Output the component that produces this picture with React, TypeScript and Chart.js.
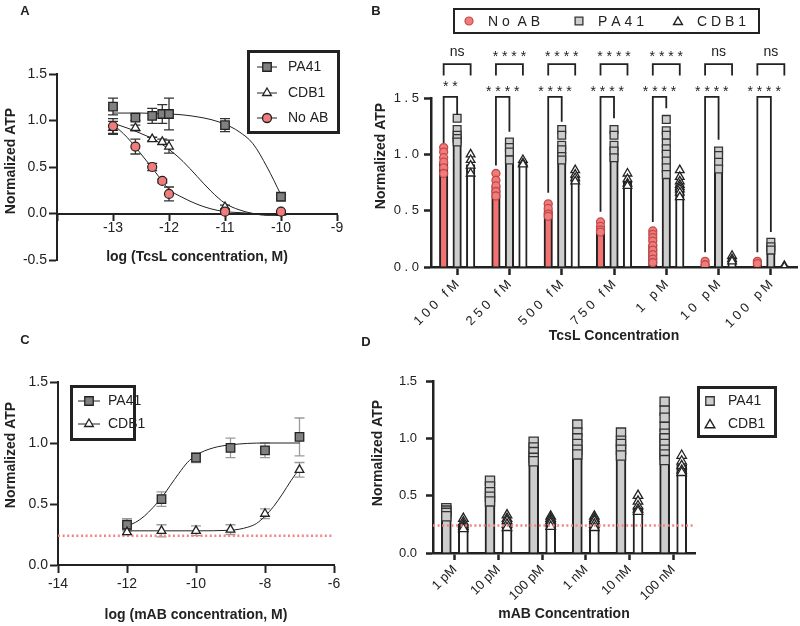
import React, { useEffect, useRef } from "react";
import { Chart, registerables } from "chart.js";

Chart.register(...registerables);

const FONT = "'Liberation Sans', Arial, Helvetica, sans-serif";
const INK = "#222222";
const RED = "#f27b7b";
const RED_BAR = "#f47272";
const DARK_GRAY = "#808080";
const LIGHT_GRAY = "#cdcdcd";
const DOT_RED = "#f28484";

// ---------------- Panel A ----------------
const aLogConc = [-13, -12.6, -12.3, -12.12, -12, -11, -10];
const aPA41 = [1.15, 1.03, 1.05, 1.07, 1.07, 0.95, 0.18];
const aPA41Err = [0.09, 0.03, 0.08, 0.1, 0.17, 0.07, 0.02];
const aCDB1 = [0.92, 0.92, 0.8, 0.77, 0.72, 0.07, 0.01];
const aCDB1Err = [0.07, 0.03, 0.02, 0.03, 0.07, 0.02, 0.01];
const aNoAB = [0.94, 0.72, 0.5, 0.35, 0.21, 0.02, 0.02];
const aNoABErr = [0.08, 0.08, 0.04, 0.02, 0.075, 0.01, 0.01];
const aFitX = [-13, -12.75, -12.5, -12.25, -12, -11.75, -11.5, -11.25, -11, -10.75, -10.5, -10.25, -10];
const aFitPA41 = [1.08, 1.08, 1.08, 1.075, 1.07, 1.06, 1.04, 1.01, 0.96, 0.88, 0.75, 0.5, 0.2];
const aFitCDB1 = [0.97, 0.92, 0.86, 0.79, 0.69, 0.56, 0.4, 0.24, 0.11, 0.04, 0.0, -0.02, -0.02];
const aFitNoAB = [0.96, 0.82, 0.64, 0.45, 0.26, 0.17, 0.1, 0.05, 0.02, 0.01, 0.0, -0.01, -0.01];

// ---------------- Panel B ----------------
const bCategories = ["100 fM", "250 fM", "500 fM", "750 fM", "1 pM", "10 pM", "100 pM"];
const bNoABMean = [0.93, 0.72, 0.5, 0.35, 0.2, 0.03, 0.03];
const bPA41Mean = [1.16, 1.04, 1.05, 1.05, 1.04, 0.95, 0.18];
const bCDB1Mean = [0.91, 0.93, 0.8, 0.76, 0.73, 0.07, 0.01];
const bNoABPoints = [
  [1.06, 1.02, 0.97, 0.93, 0.88, 0.83],
  [0.83, 0.77, 0.72, 0.67, 0.63],
  [0.56, 0.52, 0.47, 0.45],
  [0.4, 0.36, 0.33, 0.31],
  [0.32, 0.29, 0.26, 0.23, 0.19, 0.15, 0.11, 0.07, 0.04],
  [0.05, 0.02],
  [0.05, 0.03],
];
const bPA41Points = [
  [1.32, 1.22, 1.17, 1.14, 1.11],
  [1.11, 1.06, 1.02, 0.95],
  [1.22, 1.17, 1.08, 1.04, 0.98, 0.95],
  [1.22, 1.17, 1.08, 1.03, 0.97],
  [1.31, 1.21, 1.17, 1.1, 1.05, 1.0, 0.94, 0.88, 0.82],
  [1.03, 0.99, 0.93, 0.87],
  [0.22, 0.18, 0.15],
];
const bCDB1Points = [
  [1.0, 0.95, 0.9, 0.83],
  [0.95, 0.92, 0.91],
  [0.86, 0.82, 0.79, 0.76],
  [0.83, 0.78, 0.74, 0.72],
  [0.86, 0.8, 0.76, 0.73, 0.71, 0.69, 0.66, 0.62],
  [0.1, 0.07, 0.05],
  [0.01, 0.0],
];
const bUpperLabels = ["ns", "****", "****", "****", "****", "ns", "ns"];
const bLowerLabels = ["**", "****", "****", "****", "****", "****", "****"];
const bLowerLeftEnd = [1.1, 0.9, 0.66, 0.49, 0.4, 0.13, 0.13];
const bLowerRightEnd = [1.35, 1.2, 1.29, 1.32, 1.41, 1.13, 0.31];
const bLowerTop = 1.51;
const bUpperTop = 1.8;
const bUpperLegEnd = 1.7;

// ---------------- Panel C ----------------
const cLogConc = [-12, -11, -10, -9, -8, -7];
const cPA41 = [0.33, 0.54, 0.88, 0.96, 0.94, 1.05];
const cPA41Err = [0.05, 0.06, 0.04, 0.08, 0.06, 0.155];
const cCDB1 = [0.27, 0.28, 0.28, 0.29, 0.42, 0.78];
const cCDB1Err = [0.02, 0.05, 0.04, 0.04, 0.04, 0.06];
const cFitPA41X = [-12, -11.75, -11.5, -11.25, -11, -10.75, -10.5, -10.25, -10, -9.5, -9, -8, -7];
const cFitPA41 = [0.32, 0.35, 0.4, 0.47, 0.55, 0.65, 0.75, 0.84, 0.9, 0.96, 0.985, 1.0, 1.0];
const cFitCDB1X = [-12, -11, -10, -9, -8.5, -8.25, -8, -7.75, -7.5, -7.25, -7];
const cFitCDB1 = [0.28, 0.28, 0.28, 0.285, 0.31, 0.34, 0.4, 0.48, 0.58, 0.69, 0.79];
const noAbBaseline = 0.24;

// ---------------- Panel D ----------------
const dCategories = ["1 pM", "10 pM", "100 pM", "1 nM", "10 nM", "100 nM"];
const dPA41Mean = [0.35, 0.52, 0.89, 0.95, 0.95, 1.04];
const dCDB1Mean = [0.25, 0.28, 0.28, 0.27, 0.4, 0.77];
const dPA41Points = [
  [0.39, 0.37, 0.35, 0.32],
  [0.63, 0.58, 0.53, 0.49, 0.45],
  [0.97, 0.92, 0.88, 0.83, 0.8],
  [1.12, 1.05, 1.0, 0.95, 0.9, 0.86],
  [1.05, 0.98, 0.95, 0.9, 0.85],
  [1.32, 1.24, 1.18, 1.1, 1.04, 1.0, 0.95, 0.9, 0.86, 0.81],
];
const dCDB1Points = [
  [0.3, 0.27, 0.25, 0.23, 0.21],
  [0.33, 0.3, 0.28, 0.25, 0.22],
  [0.32, 0.3, 0.28, 0.26, 0.23],
  [0.32, 0.3, 0.28, 0.25, 0.22],
  [0.5, 0.45, 0.41, 0.38, 0.36],
  [0.85, 0.8, 0.76, 0.72, 0.7],
];

// ---------------- helpers ----------------
const spaced = (s: string) => s.split("").join(" ");
const fnt = (size: number, bold = false) => `${bold ? "bold " : ""}${size}px ${FONT}`;

function drawText(
  ctx: CanvasRenderingContext2D,
  text: string,
  x: number,
  y: number,
  size: number,
  bold: boolean,
  rotate = 0,
  align: CanvasTextAlign = "center",
  baseline: CanvasTextBaseline = "middle"
) {
  ctx.save();
  ctx.translate(x, y);
  if (rotate) ctx.rotate(rotate);
  ctx.font = fnt(size, bold);
  ctx.fillStyle = INK;
  ctx.textAlign = align;
  ctx.textBaseline = baseline;
  ctx.fillText(text, 0, 0);
  ctx.restore();
}

function drawMarker(
  ctx: CanvasRenderingContext2D,
  style: string,
  x: number,
  y: number,
  r: number,
  fill: string,
  stroke: string,
  lw: number
) {
  ctx.save();
  ctx.beginPath();
  if (style === "rect") {
    const s = r * Math.SQRT1_2;
    ctx.rect(x - s, y - s, 2 * s, 2 * s);
  } else if (style === "triangle") {
    ctx.moveTo(x, y - r);
    ctx.lineTo(x + r * 0.866, y + r * 0.5);
    ctx.lineTo(x - r * 0.866, y + r * 0.5);
    ctx.closePath();
  } else {
    ctx.arc(x, y, r, 0, Math.PI * 2);
  }
  ctx.fillStyle = fill;
  ctx.fill();
  ctx.lineWidth = lw;
  ctx.strokeStyle = stroke;
  ctx.stroke();
  ctx.restore();
}

function drawBox(ctx: CanvasRenderingContext2D, x: number, y: number, w: number, h: number, lw: number) {
  ctx.save();
  ctx.lineWidth = lw;
  ctx.strokeStyle = INK;
  ctx.strokeRect(x + lw / 2, y + lw / 2, w - lw, h - lw);
  ctx.restore();
}

function hLine(ctx: CanvasRenderingContext2D, x1: number, x2: number, y: number, lw: number) {
  ctx.save();
  ctx.beginPath();
  ctx.moveTo(x1, y);
  ctx.lineTo(x2, y);
  ctx.lineWidth = lw;
  ctx.strokeStyle = INK;
  ctx.stroke();
  ctx.restore();
}

const errorBarPlugin = {
  id: "errorBars",
  beforeDatasetsDraw(chart: any) {
    const { ctx } = chart;
    const xs = chart.scales.x;
    const ys = chart.scales.y;
    chart.data.datasets.forEach((ds: any) => {
      if (!ds.errors) return;
      ctx.save();
      ctx.strokeStyle = ds.errorColor;
      ctx.lineWidth = 1.3;
      ds.data.forEach((p: any, i: number) => {
        const e = ds.errors[i];
        const px = xs.getPixelForValue(p.x);
        const y1 = ys.getPixelForValue(p.y - e);
        const y2 = ys.getPixelForValue(p.y + e);
        ctx.beginPath();
        ctx.moveTo(px, y1);
        ctx.lineTo(px, y2);
        ctx.moveTo(px - 5, y1);
        ctx.lineTo(px + 5, y1);
        ctx.moveTo(px - 5, y2);
        ctx.lineTo(px + 5, y2);
        ctx.stroke();
      });
      ctx.restore();
    });
  },
};

function axisParts(bw: number, tickLength: number, fontSize: number, pad: number) {
  return {
    border: { display: true, color: INK, width: bw },
    grid: { display: true, drawOnChartArea: false, drawTicks: true, tickLength, tickWidth: bw, tickColor: INK, offset: false },
    ticks: { color: INK, font: { family: FONT, size: fontSize }, padding: pad, autoSkip: false },
  };
}

const titleFont = { family: FONT, size: 14, weight: "bold" as const };

function curveDataset(xs: number[], ys: number[]) {
  return {
    type: "line",
    data: xs.map((x, i) => ({ x, y: ys[i] })),
    borderColor: INK,
    borderWidth: 1,
    pointRadius: 0,
    showLine: true,
    fill: false,
    cubicInterpolationMode: "monotone",
  };
}

// grouped bars and their dots placed on a hidden linear axis ("xs") that lines up with the category axis
function groupedBar(means: number[], offset: number, color: string, thickness: number) {
  return {
    type: "bar",
    xAxisID: "xs",
    grouped: false,
    barThickness: thickness,
    data: means.map((y, i) => ({ x: i + offset, y })),
    backgroundColor: color,
    borderColor: INK,
    borderWidth: 2,
  };
}
function groupedDots(groups: number[][], offset: number, style: string, r: number, fill: string, stroke: string) {
  return {
    type: "scatter",
    xAxisID: "xs",
    data: groups.flatMap((arr, i) => arr.map((y) => ({ x: i + offset, y }))),
    pointStyle: style,
    pointRadius: r,
    backgroundColor: fill,
    borderColor: stroke,
    borderWidth: 1.3,
  };
}

// ---------------- configs ----------------
function configA(): any {
  const pts = (ys: number[]) => aLogConc.map((x, i) => ({ x, y: ys[i] }));
  const ax = axisParts(2, 6, 14, 0);
  const ay = axisParts(2, 8, 14, 2);
  const decor = {
    id: "decorA",
    afterDraw(chart: any) {
      const ctx = chart.ctx;
      drawText(ctx, "A", 25, 11, 13, true);
      drawText(ctx, "Normalized ATP", 11, 161, 14, true, -Math.PI / 2);
      drawBox(ctx, 247, 50, 93, 84, 3);
      const rows = [
        { y: 67, label: "PA41", style: "rect", fill: DARK_GRAY, r: 6 },
        { y: 93, label: "CDB1", style: "triangle", fill: "#ffffff", r: 5 },
        { y: 118, label: "No AB", style: "circle", fill: RED, r: 4.5 },
      ];
      rows.forEach((row) => {
        hLine(ctx, 257, 277, row.y, 1);
        drawMarker(ctx, row.style, 267, row.y, row.r, row.fill, INK, 1.3);
        drawText(ctx, row.label, 288, row.y, 14, false, 0, "left");
      });
    },
  };
  return {
    type: "scatter",
    data: {
      datasets: [
        { data: pts(aNoAB), errors: aNoABErr, errorColor: "#333", pointStyle: "circle", pointRadius: 4.5, backgroundColor: RED, borderColor: INK, borderWidth: 1.2 },
        { data: pts(aCDB1), errors: aCDB1Err, errorColor: "#333", pointStyle: "triangle", pointRadius: 5, backgroundColor: "#ffffff", borderColor: INK, borderWidth: 1.3 },
        { data: pts(aPA41), errors: aPA41Err, errorColor: "#333", pointStyle: "rect", pointRadius: 6, backgroundColor: DARK_GRAY, borderColor: INK, borderWidth: 1.3 },
        curveDataset(aFitX, aFitPA41),
        curveDataset(aFitX, aFitCDB1),
        curveDataset(aFitX, aFitNoAB),
      ],
    },
    options: {
      responsive: false,
      animation: false,
      events: [],
      layout: { padding: { left: 0, top: 74, right: 63, bottom: 60 }, autoPadding: false },
      plugins: { legend: { display: false }, tooltip: { enabled: false } },
      scales: {
        x: {
          type: "linear",
          position: { y: 0 },
          min: -14,
          max: -9,
          border: ax.border,
          grid: ax.grid,
          ticks: { ...ax.ticks, stepSize: 1, callback: (v: number) => (v === -14 ? "" : String(v)) },
          title: { display: true, text: "log (TcsL concentration, M)", color: INK, font: titleFont, padding: { top: 0, bottom: 0 } },
          afterFit: (s: any) => {
            s.height = 52.4;
          },
        },
        y: {
          type: "linear",
          min: -0.5,
          max: 1.5,
          border: ay.border,
          grid: ay.grid,
          ticks: { ...ay.ticks, stepSize: 0.5, callback: (v: number) => Number(v).toFixed(1) },
          afterFit: (s: any) => {
            s.width = 57;
          },
        },
      },
    },
    plugins: [errorBarPlugin, decor],
  };
}

function configB(): any {
  const slot = 0.258; // distance between neighbouring bars of a group, in category units
  const ax = axisParts(2.5, 8, 13, 2);
  const ay = axisParts(2.5, 7, 13, 5);
  const decor = {
    id: "decorB",
    afterDraw(chart: any) {
      const ctx = chart.ctx;
      const ys = chart.scales.y;
      drawText(ctx, "B", 16, 11, 13, true);
      drawText(ctx, "Normalized ATP", 21, 156, 14, true, -Math.PI / 2);
      // legend
      drawBox(ctx, 93, 8, 307, 26, 2);
      drawMarker(ctx, "circle", 109, 21, 4, RED, "#c24a4a", 1.2);
      drawText(ctx, "N o  A B", 128, 22, 14, false, 0, "left");
      drawMarker(ctx, "rect", 219, 21, 5.5, LIGHT_GRAY, "#333", 1.3);
      drawText(ctx, spaced("PA41"), 238, 22, 14, false, 0, "left");
      drawMarker(ctx, "triangle", 318, 22, 5, "#ffffff", INK, 1.5);
      drawText(ctx, spaced("CDB1"), 337, 22, 14, false, 0, "left");
      // significance brackets
      const mR = chart.getDatasetMeta(3);
      const mG = chart.getDatasetMeta(4);
      const mW = chart.getDatasetMeta(5);
      ctx.save();
      ctx.strokeStyle = INK;
      ctx.lineWidth = 1.8;
      for (let i = 0; i < bCategories.length; i++) {
        const xr = mR.data[i].x;
        const xg = mG.data[i].x;
        const xw = mW.data[i].x;
        const lt = ys.getPixelForValue(bLowerTop);
        ctx.beginPath();
        ctx.moveTo(xr, ys.getPixelForValue(bLowerLeftEnd[i]));
        ctx.lineTo(xr, lt);
        ctx.lineTo(xg, lt);
        ctx.lineTo(xg, ys.getPixelForValue(bLowerRightEnd[i]));
        ctx.stroke();
        const ut = ys.getPixelForValue(bUpperTop);
        const ul = ys.getPixelForValue(bUpperLegEnd);
        ctx.beginPath();
        ctx.moveTo(xr, ul);
        ctx.lineTo(xr, ut);
        ctx.lineTo(xw, ut);
        ctx.lineTo(xw, ul);
        ctx.stroke();
        const up = bUpperLabels[i];
        drawText(ctx, up === "ns" ? up : spaced(up), (xr + xw) / 2, ut - (up === "ns" ? 8 : 3), 14, false, 0, "center", "alphabetic");
        const lo = bLowerLabels[i];
        drawText(ctx, spaced(lo), (xr + xg) / 2, lt - (lo === "**" ? 6 : 1), 14, false, 0, "center", "alphabetic");
      }
      ctx.restore();
    },
  };
  return {
    type: "bar",
    data: {
      labels: bCategories,
      datasets: [
        groupedDots(bNoABPoints, -slot, "circle", 4, RED, "#c24a4a"),
        groupedDots(bPA41Points, 0, "rect", 5.5, LIGHT_GRAY, "#333"),
        groupedDots(bCDB1Points, slot, "triangle", 5, "#ffffff", INK),
        groupedBar(bNoABMean, -slot, RED_BAR, 8.5),
        groupedBar(bPA41Mean, 0, LIGHT_GRAY, 8.5),
        groupedBar(bCDB1Mean, slot, "#ffffff", 8.5),
      ],
    },
    options: {
      responsive: false,
      animation: false,
      events: [],
      layout: { padding: { left: 0, top: 98, right: 3, bottom: 5 }, autoPadding: false },
      plugins: { legend: { display: false }, tooltip: { enabled: false } },
      scales: {
        x: {
          type: "category",
          offset: true,
          border: ax.border,
          grid: ax.grid,
          ticks: { ...ax.ticks, minRotation: 45, maxRotation: 45, callback: (_v: any, i: number) => spaced(bCategories[i]) },
          title: { display: true, text: "TcsL Concentration", color: INK, font: titleFont, padding: { top: 0, bottom: 0 } },
          afterFit: (s: any) => {
            s.height = 78;
          },
        },
        xs: { type: "linear", axis: "x", display: false, offset: false, min: -0.5, max: bCategories.length - 0.5 },
        y: {
          type: "linear",
          min: 0,
          max: 1.5,
          border: ay.border,
          grid: ay.grid,
          ticks: { ...ay.ticks, stepSize: 0.5, callback: (v: number) => spaced(Number(v).toFixed(1)) },
          afterFit: (s: any) => {
            s.width = 71;
          },
        },
      },
    },
    plugins: [decor],
  };
}

function configC(): any {
  const pts = (ys: number[]) => cLogConc.map((x, i) => ({ x, y: ys[i] }));
  const ax = axisParts(2, 8, 14, 3);
  const ay = axisParts(2, 8, 14, 2);
  const decor = {
    id: "decorC",
    afterDraw(chart: any) {
      const ctx = chart.ctx;
      drawText(ctx, "C", 25, 20, 13, true);
      drawText(ctx, "Normalized ATP", 11, 135, 14, true, -Math.PI / 2);
      drawBox(ctx, 70, 65, 66, 56, 3);
      const rows = [
        { y: 81, label: "PA41", style: "rect", fill: DARK_GRAY, r: 6 },
        { y: 104, label: "CDB1", style: "triangle", fill: "#ffffff", r: 5 },
      ];
      rows.forEach((row) => {
        hLine(ctx, 78, 100, row.y, 1);
        drawMarker(ctx, row.style, 89, row.y, row.r, row.fill, INK, 1.3);
        drawText(ctx, row.label, 108, row.y, 14, false, 0, "left");
      });
    },
  };
  return {
    type: "scatter",
    data: {
      datasets: [
        { data: pts(cCDB1), errors: cCDB1Err, errorColor: "#9a9a9a", pointStyle: "triangle", pointRadius: 5, backgroundColor: "#ffffff", borderColor: INK, borderWidth: 1.3 },
        { data: pts(cPA41), errors: cPA41Err, errorColor: "#9a9a9a", pointStyle: "rect", pointRadius: 6, backgroundColor: DARK_GRAY, borderColor: INK, borderWidth: 1.3 },
        curveDataset(cFitPA41X, cFitPA41),
        curveDataset(cFitCDB1X, cFitCDB1),
        {
          type: "line",
          data: [
            { x: -14, y: noAbBaseline },
            { x: -6, y: noAbBaseline },
          ],
          borderColor: DOT_RED,
          borderWidth: 2.5,
          borderDash: [2, 2.6],
          pointRadius: 0,
          showLine: true,
          fill: false,
        },
      ],
    },
    options: {
      responsive: false,
      animation: false,
      events: [],
      layout: { padding: { left: 0, top: 62, right: 66, bottom: 2.6 }, autoPadding: false },
      plugins: { legend: { display: false }, tooltip: { enabled: false } },
      scales: {
        x: {
          type: "linear",
          min: -14,
          max: -6,
          border: ax.border,
          grid: ax.grid,
          ticks: { ...ax.ticks, stepSize: 2, callback: (v: number) => String(v) },
          title: { display: true, text: "log (mAB concentration, M)", color: INK, font: titleFont, padding: { top: 0, bottom: 0 } },
          afterFit: (s: any) => {
            s.height = 58.4;
          },
        },
        y: {
          type: "linear",
          min: 0,
          max: 1.5,
          border: ay.border,
          grid: ay.grid,
          ticks: { ...ay.ticks, stepSize: 0.5, callback: (v: number) => Number(v).toFixed(1) },
          afterFit: (s: any) => {
            s.width = 58;
          },
        },
      },
    },
    plugins: [errorBarPlugin, decor],
  };
}

function configD(): any {
  const half = 0.195; // half the distance between the two bars of a group, in category units
  const ax = axisParts(2.5, 7, 13, 2);
  const ay = axisParts(2.5, 7, 13, 9);
  const decor = {
    id: "decorD",
    afterDraw(chart: any) {
      const ctx = chart.ctx;
      drawText(ctx, "D", 6, 22, 13, true);
      drawText(ctx, "Normalized ATP", 18, 133, 14, true, -Math.PI / 2);
      drawBox(ctx, 337, 66, 80, 52, 3);
      drawMarker(ctx, "rect", 350, 81, 6, LIGHT_GRAY, "#333", 1.3);
      drawText(ctx, "PA41", 368, 81, 14, false, 0, "left");
      drawMarker(ctx, "triangle", 350, 105, 5.5, "#ffffff", INK, 1.5);
      drawText(ctx, "CDB1", 368, 104, 14, false, 0, "left");
    },
  };
  return {
    type: "bar",
    data: {
      labels: dCategories,
      datasets: [
        {
          type: "line",
          xAxisID: "xs",
          data: [
            { x: -0.5, y: noAbBaseline },
            { x: dCategories.length - 0.5, y: noAbBaseline },
          ],
          borderColor: DOT_RED,
          borderWidth: 2.5,
          borderDash: [2, 2.6],
          pointRadius: 0,
          fill: false,
        },
        groupedDots(dCDB1Points, half, "triangle", 5.5, "#ffffff", INK),
        groupedDots(dPA41Points, -half, "rect", 6.5, LIGHT_GRAY, "#333"),
        groupedBar(dPA41Mean, -half, LIGHT_GRAY, 10),
        groupedBar(dCDB1Mean, half, "#ffffff", 10),
      ],
    },
    options: {
      responsive: false,
      animation: false,
      events: [],
      layout: { padding: { left: 0, top: 61, right: 105, bottom: 3 }, autoPadding: false },
      plugins: { legend: { display: false }, tooltip: { enabled: false } },
      scales: {
        x: {
          type: "category",
          offset: true,
          border: ax.border,
          grid: ax.grid,
          ticks: { ...ax.ticks, minRotation: 45, maxRotation: 45, callback: (_v: any, i: number) => dCategories[i] },
          title: { display: true, text: "mAB Concentration", color: INK, font: titleFont, padding: { top: 0, bottom: 0 } },
          afterFit: (s: any) => {
            s.height = 70;
          },
        },
        xs: { type: "linear", axis: "x", display: false, offset: false, min: -0.5, max: dCategories.length - 0.5 },
        y: {
          type: "linear",
          min: 0,
          max: 1.5,
          border: ay.border,
          grid: ay.grid,
          ticks: { ...ay.ticks, stepSize: 0.5, callback: (v: number) => Number(v).toFixed(1) },
          afterFit: (s: any) => {
            s.width = 73;
          },
        },
      },
    },
    plugins: [decor],
  };
}

// ---------------- components ----------------
function Panel(props: { left: number; top: number; width: number; height: number; make: () => any }) {
  const ref = useRef<HTMLCanvasElement>(null);
  useEffect(() => {
    const chart = new Chart(ref.current as HTMLCanvasElement, props.make());
    return () => chart.destroy();
  }, []);
  return (
    <canvas
      ref={ref}
      width={props.width}
      height={props.height}
      style={{ position: "absolute", left: props.left, top: props.top, width: props.width, height: props.height }}
    />
  );
}

export default function App() {
  return (
    <div style={{ position: "fixed", left: 0, top: 0, width: 800, height: 626, background: "#ffffff", overflow: "hidden" }}>
      <Panel left={0} top={0} width={400} height={320} make={configA} />
      <Panel left={360} top={0} width={440} height={350} make={configB} />
      <Panel left={0} top={320} width={400} height={306} make={configC} />
      <Panel left={360} top={320} width={440} height={306} make={configD} />
    </div>
  );
}
